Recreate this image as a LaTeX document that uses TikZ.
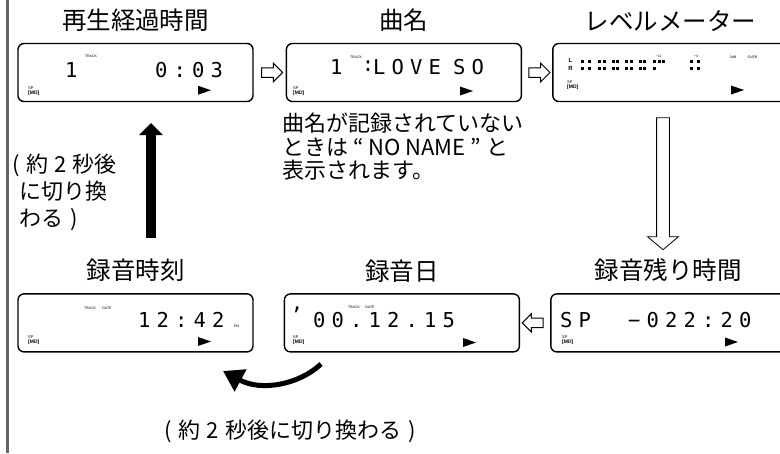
\documentclass[tikz,border=0pt]{standalone}
\usepackage{fontspec}
\setmainfont{Noto Sans CJK JP}
\newfontfamily\lcdfont[LetterSpace=30]{DejaVu Sans Mono}
\newfontfamily\labelfont{Liberation Sans}
\usetikzlibrary{positioning,arrows.meta,calc,shapes.arrows}

\begin{document}
\begin{tikzpicture}[
    x=1pt, y=-1pt,
    >=Stealth,
    lcdbox/.style={draw, line width=1.4pt, rounded corners=6pt, minimum width=235pt, minimum height=58pt, inner sep=0pt},
    titletext/.style={font=\fontsize{24.5}{26}\selectfont, inner sep=0pt},
    notetext/.style={font=\fontsize{22}{23.5}\selectfont, inner sep=0pt, align=left},
    lcdtext/.style={font=\lcdfont\fontsize{20.5}{22}\selectfont, inner sep=0pt, anchor=west},
    tinytext/.style={font=\labelfont\fontsize{3.5}{4}\selectfont, inner sep=0pt},
    sptext/.style={font=\labelfont\fontsize{4}{4}\selectfont, inner sep=0pt, anchor=west},
    mdtext/.style={font=\labelfont\bfseries\fontsize{5}{5}\selectfont, inner sep=0pt, anchor=west},
    steparrow/.style={draw, line width=1pt, single arrow, single arrow head extend=4.5pt, single arrow tip angle=90,
      minimum height=21pt, inner xsep=0pt, inner ysep=0pt},
    bigarrow/.style={line width=9.5pt, -{Triangle[length=12pt, width=23pt]}},
    swaparrow/.style={line width=5pt, -{Triangle[length=20pt, width=24pt]}},
]
\useasboundingbox (0,0) rectangle (780,453);
\clip (0,0) rectangle (780,453);

% ---- Page edge ----
\draw[line width=2.5pt, black!60] (7.5,0) -- (7.5,453);

% ---- Top row: displays ----
\node[lcdbox] (elapsed) at (135.5,72.5) {};
\node[lcdbox, right=32pt of elapsed] (songname) {};
\node[lcdbox, right=30pt of songname] (meter) {};

\node[titletext, above=11pt of elapsed] (elapsedtitle) {再生経過時間};
\node[titletext, above=11pt of songname] (songtitle) {曲名};
\node[titletext, above=11pt of meter] (metertitle) {レベルメーター};

% ---- Bottom row: displays ----
\node[lcdbox, below=191pt of elapsed] (rectime) {};
\node[lcdbox, right=30pt of rectime] (recdate) {};
\node[lcdbox, right=30pt of recdate] (remain) {};

\node[titletext, above=11pt of rectime] (rectimetitle) {録音時刻};
\node[titletext, above=11pt of recdate] (recdatetitle) {録音日};
\node[titletext, above=11pt of remain] (remaintitle) {録音残り時間};

% ---- Display contents ----
\node[lcdtext] (e1) at (65,70.5) {1};
\node[lcdtext] (e2) at (155,70.5) {0:03};
\node[tinytext] (etrack) at (91,56) {TRACK};

\node[lcdtext] (s1) at (330,67.5) {1};
\node[lcdtext, anchor=center] (scolon) at (368,66) {:};
\node[lcdtext] (s2) at (373,67.5) {LOVE};
\node[lcdtext] (s3) at (453,67.5) {SO};
\node[tinytext] (strack) at (356,57) {TRACK};

\node[font=\labelfont\bfseries\fontsize{6}{6}\selectfont, inner sep=0pt] (mleft) at (570.5,60) {L};
\node[font=\labelfont\bfseries\fontsize{6}{6}\selectfont, inner sep=0pt] (mright) at (570.5,68.5) {R};
\foreach \bx in {580.5,588,598,602.5,611.5,616,625,629.5,638.5,643,653,657.5,662,690,696.5}
  \fill (\bx,59.5) rectangle ++(3.2,3);
\foreach \bx in {580.5,588,598,602.5,611.5,616,625,629.5,638.5,643,653,690,696.5}
  \fill (\bx,67) rectangle ++(3.2,3);
\node[tinytext] (m12) at (658.5,56) {−12};
\node[tinytext] (m4) at (696,56) {−4};
\node[tinytext] (m0) at (733,57) {0dB};
\node[tinytext] (mover) at (752.5,57) {OVER};

\node[lcdtext] (t1) at (138,320) {12:42};
\node[tinytext] (tpm) at (236.5,326) {PM};
\node[tinytext] (ttrack) at (90,308) {TRACK};
\node[tinytext] (tdate) at (107,308) {DATE};

\node[lcdtext, anchor=center] (dyear) at (296.5,314.5) {’};
\node[lcdtext] (d1) at (313,320) {00.12.15};
\node[tinytext] (dtrack) at (354,307.5) {TRACK};
\node[tinytext] (ddate) at (370,307.5) {DATE};

\node[lcdtext] (r1) at (560,320) {SP};
\node[lcdtext] (r2) at (628,320) {−022:20};

% SP / [MD] marks and play marks
\foreach \mx/\my in {28/88.5, 293/88.5, 567/82.5, 28/337.5, 293/337.5, 562/337.5}{
  \node[sptext] at (\mx,\my) {SP};
  \node[mdtext] at (\mx,\my+4.5) {[MD]};
}
\foreach \px/\py in {198/90.25, 460/91, 731/90, 198/341.5, 463/342.5, 725/342}
  \fill (\px,\py-4.5) -- (\px,\py+4.5) -- (\px+13,\py) -- cycle;

% ---- Arrows between displays ----
\node[steparrow] (go12) at ($(elapsed.east)!0.5!(songname.west)$) {\rule{0pt}{8.5pt}};
\node[steparrow] (go23) at ($(songname.east)!0.5!(meter.west)$) {\rule{0pt}{8.5pt}};
\node[steparrow, shape border rotate=180] (go65) at ($(recdate.east)!0.5!(remain.west)$) {\rule{0pt}{8.5pt}};
\node[draw, line width=0.8pt, single arrow, single arrow head extend=9pt, single arrow tip angle=100,
  minimum height=132pt, inner sep=0pt, shape border rotate=270] (go36) at (663,181) {\rule{12pt}{0pt}};

\coordinate (upstart) at (151,238);
\coordinate (upend) at (151,123);
\draw[bigarrow] (upstart) -- (upend);

\coordinate (swapstart) at (321,364);
\coordinate (swapend) at (223,371);
\draw[swaparrow] (swapstart) .. controls (300,384) and (262,392) .. (swapend);

% ---- Notes ----
\node[notetext, anchor=north west] (nonamenote) at (282,113) {曲名が記録されていない\\ときは “ NO NAME ” と\\表示されます。};
\node[notetext, font=\fontsize{22}{27}\selectfont, anchor=west] (leftnote) at (12,192)
  {(\hspace{7pt}約\hspace{6pt}2\hspace{6pt}秒後\\\hspace*{7pt}に切り換\\\hspace*{7pt}わる\hspace{7pt})};
\node[notetext] (bottomnote) at (290,431) {(\hspace{7pt}約\hspace{6pt}2\hspace{6pt}秒後に切り換わる\hspace{7pt})};

\end{tikzpicture}
\end{document}
